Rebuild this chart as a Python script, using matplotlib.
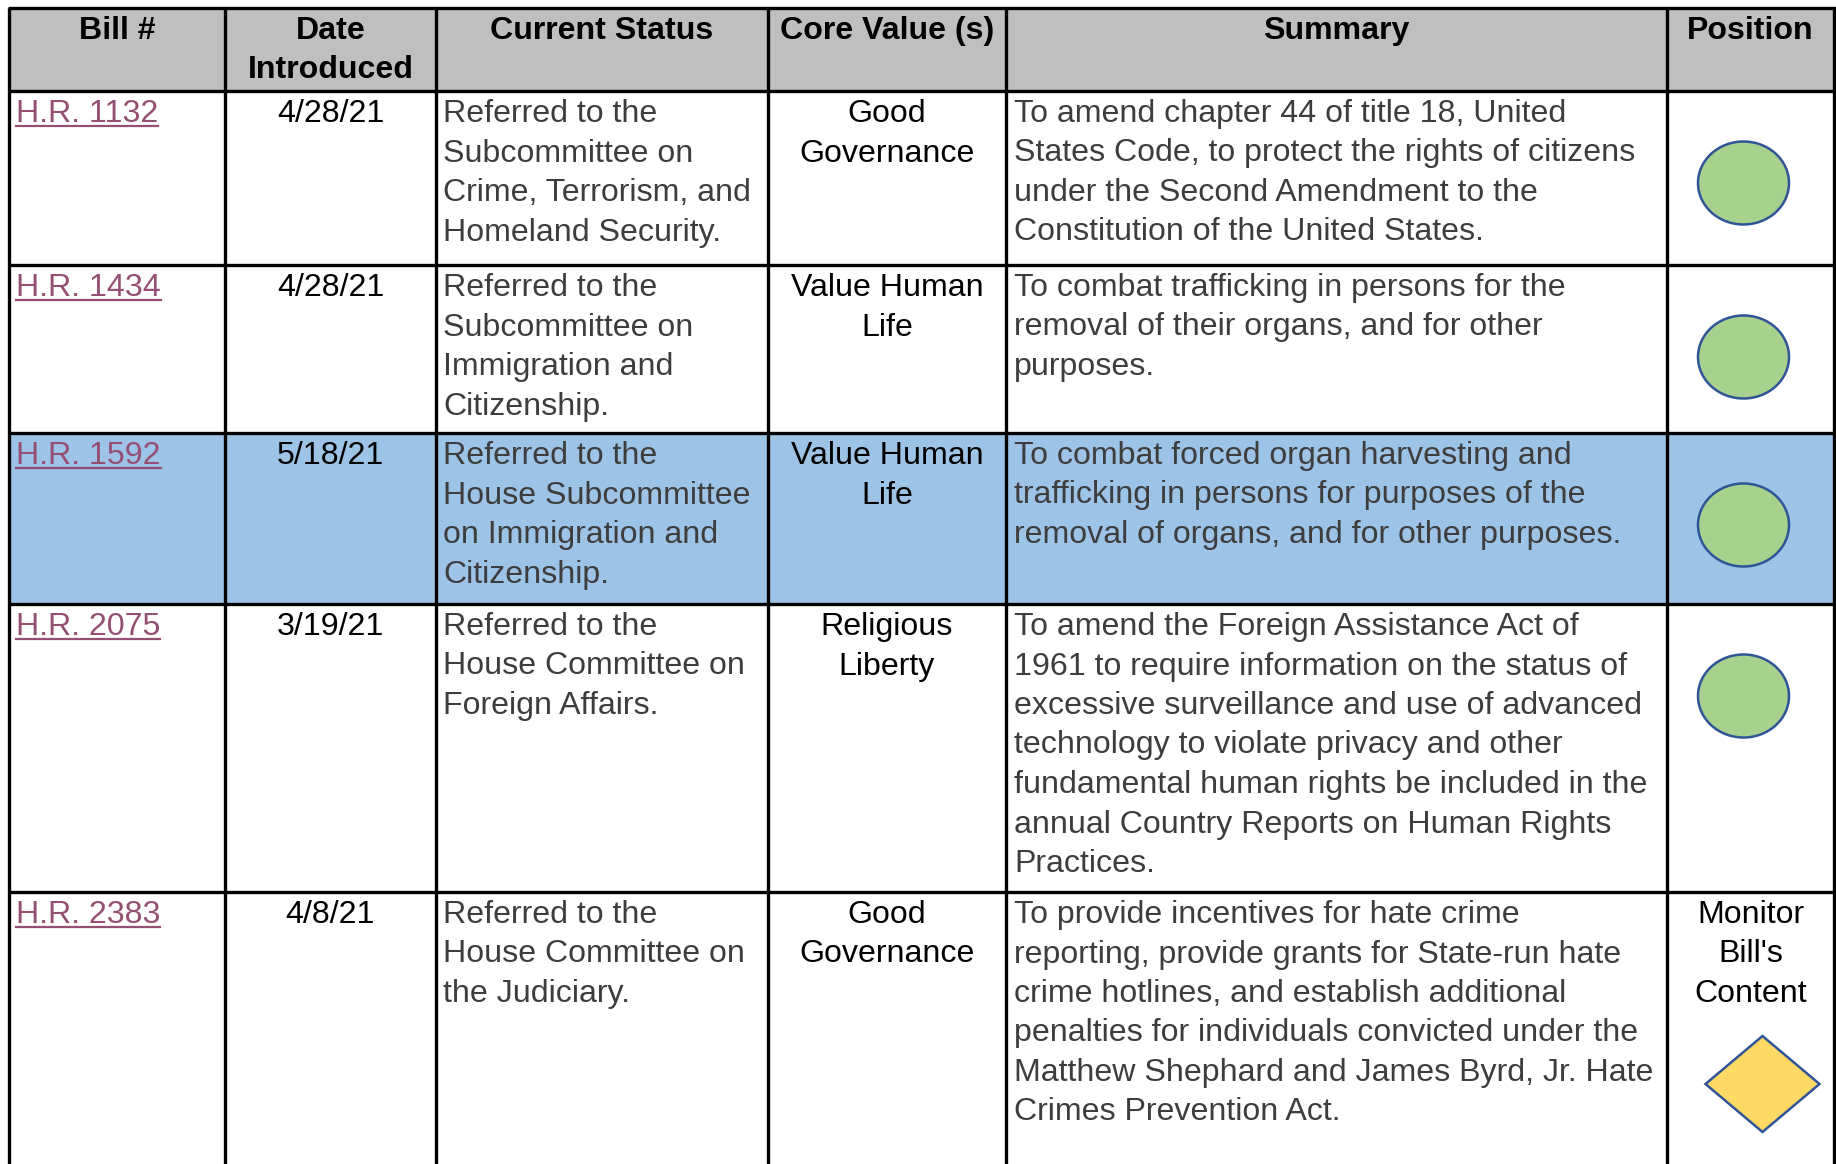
import matplotlib
matplotlib.use("Agg")
import matplotlib.pyplot as plt
from matplotlib.patches import Rectangle, Ellipse, Polygon

# ---------------- data ----------------
headers = ["Bill #", "Date\nIntroduced", "Current Status", "Core Value (s)", "Summary", "Position"]
bills = ["H.R. 1132", "H.R. 1434", "H.R. 1592", "H.R. 2075", "H.R. 2383"]
dates = ["4/28/21", "4/28/21", "5/18/21", "3/19/21", "4/8/21"]
statuses = [
    "Referred to the\nSubcommittee on\nCrime, Terrorism, and\nHomeland Security.",
    "Referred to the\nSubcommittee on\nImmigration and\nCitizenship.",
    "Referred to the\nHouse Subcommittee\non Immigration and\nCitizenship.",
    "Referred to the\nHouse Committee on\nForeign Affairs.",
    "Referred to the\nHouse Committee on\nthe Judiciary.",
]
core_values = ["Good\nGovernance", "Value Human\nLife", "Value Human\nLife", "Religious\nLiberty", "Good\nGovernance"]
summaries = [
    "To amend chapter 44 of title 18, United\nStates Code, to protect the rights of citizens\nunder the Second Amendment to the\nConstitution of the United States.",
    "To combat trafficking in persons for the\nremoval of their organs, and for other\npurposes.",
    "To combat forced organ harvesting and\ntrafficking in persons for purposes of the\nremoval of organs, and for other purposes.",
    "To amend the Foreign Assistance Act of\n1961 to require information on the status of\nexcessive surveillance and use of advanced\ntechnology to violate privacy and other\nfundamental human rights be included in the\nannual Country Reports on Human Rights\nPractices.",
    "To provide incentives for hate crime\nreporting, provide grants for State-run hate\ncrime hotlines, and establish additional\npenalties for individuals convicted under the\nMatthew Shephard and James Byrd, Jr. Hate\nCrimes Prevention Act.",
]
positions = ["Support", "Support", "Support", "Support", "Monitor"]
monitor_label = "Monitor\nBill's\nContent"
highlight_row = 2

# ---------------- layout ----------------
W, H = 1836, 1164
col_x = [9, 225, 436, 768, 1006, 1667, 1834]
row_y = [8, 91, 265, 433, 604, 892, H + 20]
FS = 23.1
LS = 39.5
BASE = 31
FONT = "Liberation Sans"
GRAY_TXT = "#3d3d3d"
LINK = "#954F72"

fig = plt.figure(figsize=(W / 100, H / 100), dpi=100)
ax = fig.add_axes([0, 0, 1, 1])
ax.set_xlim(0, W)
ax.set_ylim(H, 0)
ax.axis("off")

# fills
ax.add_patch(Rectangle((col_x[0], row_y[0]), col_x[-1] - col_x[0], row_y[1] - row_y[0],
                       facecolor="#BFBFBF", edgecolor="none", zorder=0))
hr = highlight_row + 1
ax.add_patch(Rectangle((col_x[0], row_y[hr]), col_x[-1] - col_x[0], row_y[hr + 1] - row_y[hr],
                       facecolor="#9DC3E6", edgecolor="none", zorder=0))

# grid lines
for y in row_y[:-1]:
    ax.plot([col_x[0] - 1.5, col_x[-1] + 1.5], [y, y], color="black", lw=2.4, zorder=2,
            solid_capstyle="butt")
for x in col_x:
    ax.plot([x, x], [row_y[0], H + 5], color="black", lw=2.4, zorder=2, solid_capstyle="butt")


def put(text, x0, x1, top, ha, color, weight="normal", pad=7):
    objs = []
    for i, line in enumerate(text.split("\n")):
        y = top + BASE + i * LS
        if ha == "left":
            x = x0 + pad
        else:
            x = (x0 + x1) / 2
        t = ax.text(x, y, line, ha=ha, va="baseline", fontsize=FS, family=FONT,
                    color=color, weight=weight, zorder=3)
        objs.append((t, y))
    return objs


# header
for j, h in enumerate(headers):
    put(h, col_x[j], col_x[j + 1], row_y[0], "center", "black", weight="bold")

links = []
for r in range(len(bills)):
    top = row_y[r + 1]
    links += put(bills[r], col_x[0], col_x[1], top, "left", LINK)
    put(dates[r], col_x[1], col_x[2], top, "center", "black")
    put(statuses[r], col_x[2], col_x[3], top, "left", GRAY_TXT)
    put(core_values[r], col_x[3], col_x[4], top, "center", "black")
    put(summaries[r], col_x[4], col_x[5], top, "left", GRAY_TXT, pad=8)
    cx = (col_x[5] + col_x[6]) / 2
    if positions[r] == "Support":
        ax.add_patch(Ellipse((cx - 7, top + 92), 91, 83, facecolor="#A9D18E",
                             edgecolor="#2F5597", lw=1.8, zorder=3))
    else:
        put(monitor_label, col_x[5], col_x[6], top, "center", "black")
        dx, dy = cx + 12, top + 192
        ax.add_patch(Polygon([(dx - 57, dy), (dx, dy - 48), (dx + 57, dy), (dx, dy + 48)],
                             closed=True, facecolor="#FFD966", edgecolor="#2F5597",
                             lw=1.8, zorder=3))

# underline the hyperlinks
fig.canvas.draw()
renderer = fig.canvas.get_renderer()
for t, y in links:
    bb = t.get_window_extent(renderer)
    ax.plot([bb.x0, bb.x1], [y + 4, y + 4], color=LINK, lw=1.6, zorder=3)

fig.savefig("out.png", dpi=100)
